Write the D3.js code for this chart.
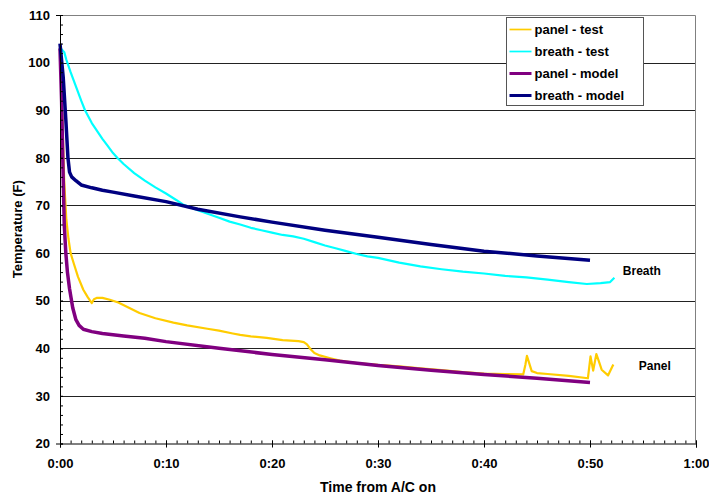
<!DOCTYPE html>
<html>
<head>
<meta charset="utf-8">
<script src="https://cdn.jsdelivr.net/npm/d3@7"></script>
<style>
  body { margin: 0; background: #fff; }
  svg { display: block; font-family: Arial, 'Liberation Sans', sans-serif; }
  .axis text { font-size: 13px; font-weight: bold; fill: #000; }
  .axis path, .axis line { stroke: #000; }
</style>
</head>
<body>
<div id="chart"></div>
<script>
// [minutes, temperature F]
let panelTest = [
  [0, 103], [0.2, 90], [0.4, 75], [0.6, 67], [0.8, 63], [1.0, 60], [1.3, 57.8], [1.7, 55],
  [2.2, 52.3], [2.6, 50.8], [3.0, 49.5], [3.2, 50.3], [3.5, 50.6], [4, 50.6], [4.7, 50.2],
  [5.5, 49.6], [6.5, 48.5], [7.5, 47.4], [9, 46.3], [10.7, 45.4], [12, 44.8], [13.9, 44.1],
  [15, 43.7], [16.3, 43.1], [17, 42.8], [18, 42.5], [19.5, 42.2], [21, 41.7], [22.5, 41.5],
  [23, 41.3], [23.3, 40.8], [23.6, 39.9], [24, 39.0], [24.5, 38.5], [25.5, 37.9], [26.4, 37.4],
  [28, 36.9], [30, 36.5], [32, 36.2], [34, 35.8], [36, 35.4], [38, 35.0], [40, 34.7], [42, 34.6],
  [43.7, 34.5], [43.9, 36.5], [44.05, 38.4], [44.5, 35.2], [45, 34.8], [46, 34.6], [48, 34.2],
  [49.8, 33.7], [50.05, 38.3], [50.3, 35.3], [50.6, 38.8], [50.8, 37.5], [51.1, 35.5],
  [51.7, 34.3], [52.2, 36.6]
]
let breathTest = [
  [0, 103.2], [0.4, 102.2], [0.6, 100.6], [1, 98], [1.5, 95], [2, 92], [2.36, 90], [3, 87.3],
  [4, 84], [4.5, 82.5], [5, 81], [5.4, 80], [6, 78.7], [7, 76.8], [8, 75.2], [9, 73.8],
  [10, 72.5], [11, 71.1], [11.6, 70.2], [13, 69.0], [14, 68.2], [15, 67.4], [16, 66.6],
  [17, 66], [18, 65.3], [19, 64.8], [20, 64.3], [21, 63.8], [22, 63.5], [23, 63.0], [24, 62.3],
  [25, 61.6], [26, 61.0], [27, 60.4], [28, 59.8], [29, 59.3], [30, 59.0], [32, 58.0], [34, 57.2],
  [36, 56.6], [38, 56.1], [40, 55.7], [42, 55.2], [44, 54.9], [46, 54.4], [48, 53.9],
  [49.7, 53.5], [51, 53.7], [51.9, 53.9], [52.3, 54.8]
]
let panelModel = [
  [0, 103], [0.15, 92], [0.3, 76], [0.4, 66], [0.55, 60], [0.7, 56], [0.9, 52.5], [1.2, 48.5],
  [1.5, 46], [1.8, 44.8], [2.2, 44], [3, 43.5], [4, 43.1], [6, 42.6], [8, 42.1], [10, 41.4],
  [15, 40], [20, 38.7], [25, 37.6], [30, 36.4], [35, 35.4], [40, 34.5], [45, 33.7], [50, 32.8]
]
let breathModel = [
  [0, 104], [0.3, 97], [0.55, 88], [0.75, 80], [0.9, 77], [1.1, 76], [1.5, 75.2], [2, 74.3],
  [3, 73.7], [4, 73.2], [5, 72.8], [7, 72], [10, 70.8], [13, 69.2], [17, 67.6], [20, 66.5],
  [25, 64.8], [30, 63.3], [35, 61.8], [40, 60.4], [45, 59.4], [50, 58.5]
]

let seriesNames = ['panel - test', 'breath - test', 'panel - model', 'breath - model']
let seriesData = [panelTest, breathTest, panelModel, breathModel]
let seriesColors = ['#FFCC00', '#00FFFF', '#800080', '#000080']
let seriesWidths = [2.2, 2.2, 3.5, 3.5]

let xTicks = [0, 10, 20, 30, 40, 50, 60]
let xTickLabels = ['0:00', '0:10', '0:20', '0:30', '0:40', '0:50', '1:00']
let yTicks = [20, 30, 40, 50, 60, 70, 80, 90, 100, 110]

var margin = { top: 15, left: 60, right: 13, bottom: 49.5 }
var width = 709 - margin.left - margin.right
var height = 493 - margin.top - margin.bottom

var svg = d3
  .select('#chart')
  .append('svg')
  .attr('width', 709)
  .attr('height', 493)
  .append('g')
  .attr('transform', `translate(${margin.left},${margin.top})`)

let xPositionScale = d3.scaleLinear().domain([0, 60]).range([0, width])
let yPositionScale = d3.scaleLinear().domain([20, 110]).range([height, 0])

// gridlines
svg
  .selectAll('.grid')
  .data(yTicks.slice(1, -1))
  .enter()
  .append('line')
  .attr('class', 'grid')
  .attr('x1', 0)
  .attr('x2', width)
  .attr('y1', d => Math.round(yPositionScale(d)) + 0.5)
  .attr('y2', d => Math.round(yPositionScale(d)) + 0.5)
  .attr('stroke', '#222')

// top and right border
svg
  .append('path')
  .attr('d', `M0,0.5H${width - 0.5}V${height}`)
  .attr('fill', 'none')
  .attr('stroke', '#808080')

// lines
let line = d3
  .line()
  .x(d => xPositionScale(d[0]))
  .y(d => yPositionScale(d[1]))

svg
  .selectAll('.series')
  .data(seriesData)
  .enter()
  .append('path')
  .attr('class', 'series')
  .attr('d', line)
  .attr('fill', 'none')
  .attr('stroke', (d, i) => seriesColors[i])
  .attr('stroke-width', (d, i) => seriesWidths[i])
  .attr('stroke-linejoin', 'round')

/* Axes */
let xMinor = d3
  .axisBottom(xPositionScale)
  .tickValues(d3.range(0, 61, 1))
  .tickSize(-3)
  .tickFormat('')
svg
  .append('g')
  .attr('class', 'axis')
  .attr('transform', `translate(0,${height})`)
  .call(xMinor)
  .call(g => g.select('.domain').remove())

let xAxis = d3
  .axisBottom(xPositionScale)
  .tickValues(xTicks)
  .tickSizeOuter(0)
  .tickSize(4)
  .tickPadding(11)
  .tickFormat((d, i) => xTickLabels[i])
svg
  .append('g')
  .attr('class', 'axis x-axis')
  .attr('transform', `translate(0,${height})`)
  .call(xAxis)
  .call(g => g.selectAll('.tick line').attr('y1', -3))

let yMinor = d3
  .axisLeft(yPositionScale)
  .tickValues(d3.range(20, 111, 2))
  .tickSize(-3)
  .tickFormat('')
svg
  .append('g')
  .attr('class', 'axis')
  .call(yMinor)
  .call(g => g.select('.domain').remove())

let yAxis = d3
  .axisLeft(yPositionScale)
  .tickValues(yTicks)
  .tickSizeOuter(0)
  .tickSize(4)
  .tickPadding(6)
svg
  .append('g')
  .attr('class', 'axis y-axis')
  .call(yAxis)
  .call(g => g.selectAll('.tick line').attr('x2', 3))

// axis titles
svg
  .append('text')
  .attr('x', width / 2)
  .attr('y', height + 48)
  .attr('text-anchor', 'middle')
  .attr('font-size', 14)
  .attr('font-weight', 'bold')
  .text('Time from A/C on')

svg
  .append('text')
  .attr('transform', `translate(${-38.5},${height / 2}) rotate(-90)`)
  .attr('text-anchor', 'middle')
  .attr('font-size', 13)
  .attr('font-weight', 'bold')
  .text('Temperature (F)')

// curve labels
svg
  .append('text')
  .attr('x', xPositionScale(53.1))
  .attr('y', yPositionScale(55.3))
  .attr('font-size', 12)
  .attr('font-weight', 'bold')
  .text('Breath')

svg
  .append('text')
  .attr('x', xPositionScale(54.6))
  .attr('y', yPositionScale(35.5))
  .attr('font-size', 12)
  .attr('font-weight', 'bold')
  .text('Panel')

/* Legend */
let legend = svg.append('g').attr('transform', `translate(${446.5},${2.5})`)
legend
  .append('rect')
  .attr('width', 137)
  .attr('height', 88)
  .attr('fill', '#fff')
  .attr('stroke', '#555')

let entry = legend
  .selectAll('.entry')
  .data(seriesNames)
  .enter()
  .append('g')
  .attr('class', 'entry')
  .attr('transform', (d, i) => `translate(0,${12 + i * 22})`)

entry
  .append('line')
  .attr('x1', 3)
  .attr('x2', 25)
  .attr('stroke', (d, i) => seriesColors[i])
  .attr('stroke-width', (d, i) => seriesWidths[i] - 0.5)

entry
  .append('text')
  .attr('x', 28)
  .attr('dy', '0.35em')
  .attr('font-size', 13)
  .attr('font-weight', 'bold')
  .text(d => d)
</script>
</body>
</html>
